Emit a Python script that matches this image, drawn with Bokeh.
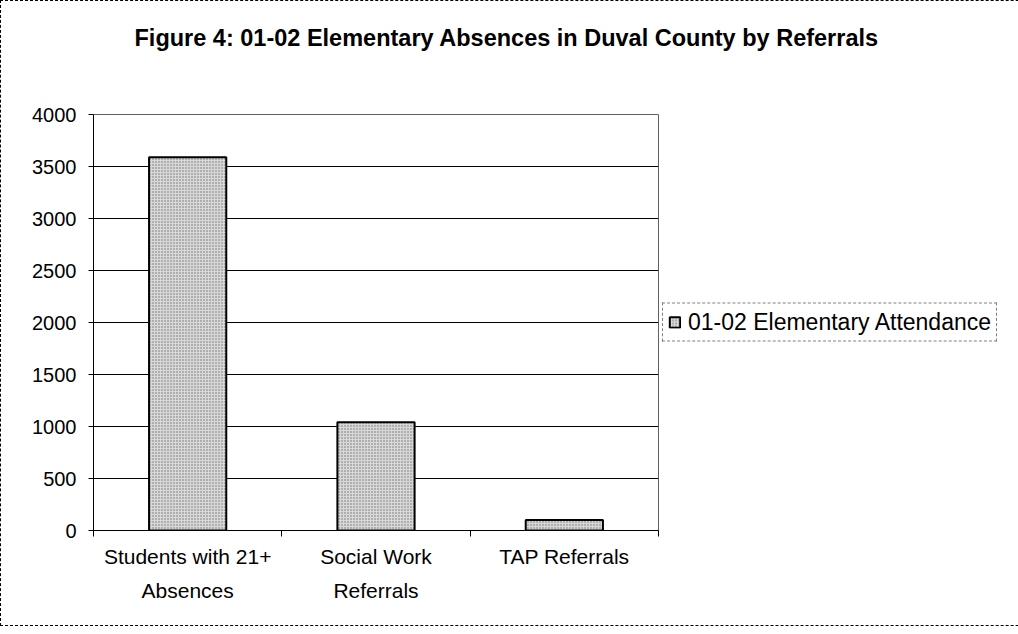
from bokeh.plotting import figure
from bokeh.models import (FactorRange, Range1d, LinearAxis, CategoricalAxis, FixedTicker,
                          Title, Legend, LegendItem, ColumnDataSource)
from bokeh.embed import file_html
from bokeh.resources import INLINE

categories = ["Students with 21+ Absences", "Social Work Referrals", "TAP Referrals"]
label_line1 = ["Students with 21+", "Social Work", "TAP Referrals"]
label_line2 = ["Absences", "Referrals", " "]
values = [3590, 1040, 100]
series_name = "01-02 Elementary Attendance"
title_text = "Figure 4: 01-02 Elementary Absences in Duval County by Referrals"
y_ticks = [0, 500, 1000, 1500, 2000, 2500, 3000, 3500, 4000]

FONT = "Liberation Sans"

p = figure(x_range=FactorRange(*categories), y_range=Range1d(0, 4000),
           frame_width=565, frame_height=416, output_backend="svg", toolbar_location=None,
           x_axis_location=None, min_border_left=92, min_border_right=357,
           min_border_top=113, min_border_bottom=95)
p.styles = {"border": "1px dashed #000"}
p.background_fill_color = "white"
p.border_fill_color = "white"
p.outline_line_color = "#606060"
p.outline_line_width = 1
p.title = None

# spacer between frame and title, then the title itself
p.add_layout(Title(text=" ", text_font_size="1px", standoff=60), "above")
p.add_layout(Title(text=title_text, align="left", offset=41, text_font=FONT,
                   text_font_style="bold", text_font_size="23.5px", text_color="black",
                   standoff=2), "above")

# y axis
p.yaxis.ticker = FixedTicker(ticks=y_ticks)
p.yaxis.major_label_text_font = FONT
p.yaxis.major_label_text_font_size = "20px"
p.yaxis.major_label_text_color = "black"
p.yaxis.major_tick_in = 0
p.yaxis.major_tick_out = 5
p.yaxis.minor_tick_line_color = None
p.yaxis.axis_line_color = "black"
p.yaxis.major_tick_line_color = "black"
p.yaxis.major_label_standoff = 12

p.ygrid.ticker = FixedTicker(ticks=y_ticks)
p.ygrid.grid_line_color = "black"
p.ygrid.grid_line_width = 1
p.xgrid.grid_line_color = None

# boundary ticks axis (category boundaries in the factor range's synthetic coordinates)
bax = LinearAxis(ticker=FixedTicker(ticks=list(range(len(categories) + 1))),
                 major_label_text_font_size="0px", major_tick_in=0, major_tick_out=6,
                 minor_tick_line_color=None, axis_line_color="black", major_label_standoff=0)
p.add_layout(bax, "below")

# two-line category labels: one categorical axis per line
p.extra_x_ranges = {"line1": FactorRange(*label_line1), "line2": FactorRange(*label_line2)}
for name, standoff in (("line1", 8), ("line2", 8)):
    ax = CategoricalAxis(x_range_name=name, axis_line_color=None, major_tick_line_color=None,
                         major_tick_out=0, major_tick_in=0,
                         major_label_text_font=FONT, major_label_text_font_size="21px",
                         major_label_text_color="black", major_label_standoff=standoff)
    p.add_layout(ax, "below")

src = ColumnDataSource(dict(cat=categories, val=values))
r = p.vbar(x="cat", top="val", width=0.41, source=src,
           fill_color="#d8d8d8", line_color="black", line_width=2,
           hatch_pattern="dot", hatch_color="#707070", hatch_scale=3, hatch_weight=1)

legend = Legend(items=[LegendItem(label=series_name, renderers=[r])],
                location="left", orientation="vertical",
                border_line_color="black", border_line_dash="14 7",
                border_line_width=1, background_fill_color="white", background_fill_alpha=1,
                label_text_font=FONT, label_text_font_size="23px", label_text_color="black",
                glyph_width=13, glyph_height=13, label_standoff=7, padding=5, margin=4)
p.add_layout(legend, "right")

open("out.html", "w").write(file_html(p, INLINE))
